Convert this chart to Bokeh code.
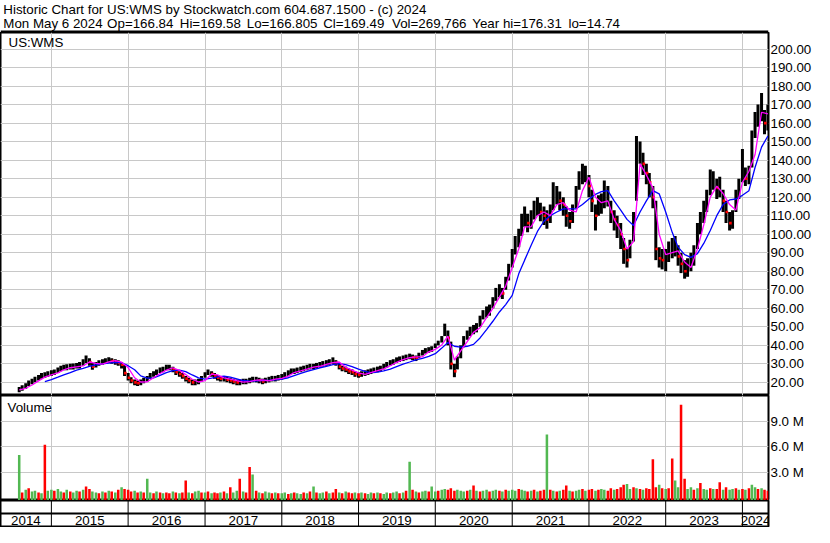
import pandas as pd
from bokeh.plotting import figure
from bokeh.layouts import column
from bokeh.models import (Range1d, FixedTicker, NumeralTickFormatter, PrintfTickFormatter,
                          Span, Label, ColumnDataSource)
from bokeh.core.properties import value
from bokeh.embed import file_html
from bokeh.resources import INLINE

# ---------------- data ----------------
title_line1 = "Historic Chart for US:WMS by Stockwatch.com 604.687.1500 - (c) 2024"
quote_fields = ["Mon May  6 2024", "Op=166.84", "Hi=169.58", "Lo=166.805", "Cl=169.49",
                "Vol=269,766", "Year hi=176.31", "lo=14.74"]
symbol_label = "US:WMS"
volume_label = "Volume"
years = list(range(2014, 2025))
price_ticks = list(range(20, 201, 10))
volume_ticks = [3, 6, 9]

# semi-monthly bars, starting 2014-08-01
bar_start = "2014-08-01"
close = [
    16.0, 17.0, 18.0, 19.5, 20.5, 21.5, 22.5, 23.5, 24.0, 24.5,
    25.0, 25.5, 26.5, 27.5, 28.0, 28.0, 28.5, 28.5, 29.0, 29.0, 30.5, 32.5, 31.0, 28.5, 29.5, 30.5, 31.0, 31.5, 32.0, 31.5, 31.0, 30.5, 29.5, 25.0,
    22.5, 21.0, 20.0, 19.5, 20.0, 21.0, 22.0, 23.5, 24.5, 25.5, 26.5, 27.0, 28.0, 28.0, 27.0, 25.5, 24.5, 23.5, 22.0, 21.0, 20.0, 20.0, 20.5, 22.0,
    24.0, 25.5, 24.5, 23.5, 22.5, 22.0, 22.0, 21.5, 21.0, 20.5, 20.0, 20.0, 20.5, 20.5, 21.0, 21.5, 21.5, 21.0, 20.5, 21.0, 21.5, 22.0, 22.0, 22.5,
    23.0, 24.0, 25.0, 26.0, 26.0, 26.5, 27.0, 27.5, 28.0, 28.5, 28.5, 29.0, 29.5, 30.0, 30.5, 31.0, 31.5, 30.5, 28.5, 27.5, 27.0, 26.0, 25.5, 24.5,
    24.0, 24.5, 25.0, 25.5, 26.0, 26.5, 27.0, 27.5, 28.5, 29.5, 30.5, 31.0, 32.0, 32.5, 33.0, 33.5, 34.0, 33.5, 33.0, 34.5, 36.0, 37.0, 37.5, 38.0,
    39.5, 41.0, 43.0, 48.0, 44.0, 30.0, 26.0, 31.0, 38.0, 43.0, 46.0, 48.0, 49.0, 50.0, 53.0, 57.0, 58.0, 59.0, 63.0, 68.0, 70.0, 68.0, 74.0, 80.0,
    88, 95, 98, 105, 110, 106, 108, 113, 115, 112, 110, 108, 110, 118, 121, 118, 116, 110, 107, 111, 120, 130, 132, 134,
    126, 118, 110, 116, 117, 120, 122, 112, 108, 105, 100, 92, 86, 92, 105, 140, 145, 138, 133, 128, 120, 92, 87, 86,
    86, 90, 92, 93, 88, 84, 80, 82, 85, 88, 100, 106, 112, 118, 128, 130, 125, 126, 118, 112, 106, 108, 118, 125,
    140, 130, 132, 150, 162, 165, 168, 160, 166,
]
high = [
    17.5, 18.5, 19.5, 21.0, 22.0, 23.0, 24.0, 25.0, 25.5, 26.0,
    26.5, 27.0, 28.0, 29.0, 29.5, 29.8, 30.0, 30.2, 30.5, 31.0, 32.5, 34.5, 33.0, 30.5, 31.0, 32.0, 32.5, 33.0, 33.5, 33.0, 32.5, 32.0, 31.0, 29.5,
    25.0, 22.8, 21.5, 21.0, 21.5, 22.5, 23.5, 25.0, 26.0, 27.0, 28.0, 28.5, 29.5, 29.5, 28.5, 27.0, 26.0, 25.0, 23.5, 22.5, 21.5, 21.5, 22.0, 23.5,
    25.5, 27.0, 26.0, 25.0, 24.0, 23.5, 23.5, 23.0, 22.5, 22.0, 21.5, 21.5, 22.0, 22.0, 22.5, 23.0, 23.0, 22.5, 22.0, 22.5, 23.0, 23.5, 23.5, 24.0,
    24.5, 25.5, 26.5, 27.5, 27.5, 28.0, 28.5, 29.0, 29.5, 30.0, 30.0, 30.5, 31.0, 31.5, 32.0, 32.5, 33.5, 32.0, 30.5, 29.0, 28.5, 27.5, 27.0, 26.0,
    25.5, 26.0, 26.5, 27.0, 27.5, 28.0, 28.5, 29.0, 30.0, 31.0, 32.0, 32.5, 33.5, 34.0, 34.5, 35.0, 35.5, 35.0, 34.5, 36.0, 37.5, 38.5, 39.0, 39.5,
    41.0, 42.5, 45.0, 51.7, 48.0, 42.0, 30.0, 34.0, 40.0, 45.0, 48.0, 50.0, 51.0, 52.0, 56.0, 59.0, 61.0, 62.0, 66.0, 71.0, 73.0, 71.0, 77.0, 84.0,
    92, 99, 103, 111, 115, 111, 113, 118, 120, 117, 115, 113, 116, 128, 126, 123, 120, 115, 112, 116, 126, 134, 138, 137,
    132, 124, 116, 121, 122, 129, 126, 118, 113, 110, 106, 98, 92, 97, 112, 153, 150, 144, 138, 133, 126, 118, 93, 92,
    92, 96, 98, 99, 94, 90, 86, 87, 90, 94, 106, 112, 118, 124, 135, 134, 130, 131, 124, 118, 112, 113, 124, 130,
    146, 136, 137, 156, 166, 170, 176.3, 167, 170,
]
low = [
    14.7, 15.5, 16.5, 18.0, 19.0, 20.0, 21.0, 22.0, 22.5, 23.0,
    23.5, 24.0, 25.0, 26.0, 26.5, 26.5, 27.0, 27.0, 27.5, 27.5, 29.0, 30.5, 29.0, 26.8, 28.0, 29.0, 29.5, 30.0, 30.5, 30.0, 29.5, 29.0, 27.5, 23.5,
    21.0, 19.5, 18.5, 18.0, 18.5, 19.5, 20.5, 22.0, 23.0, 24.0, 25.0, 25.5, 26.5, 26.5, 25.5, 24.0, 23.0, 22.0, 20.5, 19.5, 18.5, 18.5, 19.0, 20.5,
    22.5, 24.0, 23.0, 22.0, 21.0, 20.5, 20.5, 20.0, 19.5, 19.0, 18.5, 18.5, 19.0, 19.0, 19.5, 20.0, 20.0, 19.5, 19.0, 19.5, 20.0, 20.5, 20.5, 21.0,
    21.5, 22.5, 23.5, 24.5, 24.5, 25.0, 25.5, 26.0, 26.5, 27.0, 27.0, 27.5, 28.0, 28.5, 29.0, 29.5, 30.0, 29.0, 27.0, 26.0, 25.5, 24.5, 24.0, 23.0,
    22.5, 23.0, 23.5, 24.0, 24.5, 25.0, 25.5, 26.0, 27.0, 28.0, 29.0, 29.5, 30.5, 31.0, 31.5, 32.0, 32.5, 32.0, 31.5, 33.0, 34.5, 35.5, 36.0, 36.5,
    38.5, 40.0, 41.5, 45.0, 40.0, 27.0, 22.8, 27.0, 33.0, 39.0, 43.0, 45.0, 46.0, 47.0, 50.0, 54.0, 55.0, 56.0, 60.0, 64.0, 66.0, 65.0, 70.0, 75.0,
    82, 89, 93, 99, 104, 101, 103, 108, 110, 107, 105, 103, 106, 113, 116, 113, 110, 104, 103, 106, 114, 124, 127, 128,
    120, 112, 102, 110, 111, 114, 115, 106, 102, 98, 92, 84, 82, 87, 96, 118, 138, 132, 127, 120, 114, 86, 82, 81,
    80, 85, 87, 88, 83, 79, 76, 77, 80, 83, 92, 100, 106, 112, 121, 124, 119, 120, 112, 106, 102, 103, 112, 119,
    128, 126, 127, 136, 152, 158, 161, 154, 156,
]
# volume in millions, one per bar; G = up (green), R = down (red)
volume = [
    5.0, 0.6, 0.9, 1.1, 0.7, 0.8, 0.6, 0.5, 6.2, 0.8,
    0.9, 0.8, 1.0, 0.7, 0.6, 0.9, 0.7, 0.6, 0.8, 0.7, 0.9, 1.3, 1.0, 0.7, 0.6, 0.5, 0.7, 0.6, 0.8, 0.7, 0.6, 0.9, 1.2, 1.0,
    0.9, 0.7, 0.8, 0.6, 0.7, 0.6, 2.2, 0.6, 0.5, 0.7, 0.6, 0.5, 0.6, 0.5, 0.7, 0.6, 0.5, 0.6, 2.0, 0.6, 0.5, 0.7, 0.8, 0.6,
    0.6, 0.7, 0.5, 0.6, 0.5, 0.6, 0.7, 0.5, 1.2, 0.6, 0.8, 2.2, 0.7, 0.6, 3.6, 2.7, 0.8, 0.6, 0.5, 0.7, 0.6, 0.5, 0.6, 0.5,
    0.5, 0.6, 0.4, 0.5, 0.6, 0.5, 0.4, 0.6, 0.5, 0.7, 1.3, 0.6, 0.5, 0.6, 0.7, 0.5, 0.6, 1.0, 0.6, 0.5, 0.7, 0.6, 0.5, 0.6,
    0.5, 0.6, 0.5, 0.4, 0.6, 0.5, 0.6, 0.5, 0.4, 0.6, 0.5, 0.6, 0.7, 0.5, 0.6, 0.8, 4.2, 0.9, 0.7, 0.6, 0.7, 0.8, 0.7, 1.3,
    0.7, 0.8, 0.9, 1.0, 0.9, 1.1, 0.8, 0.9, 0.8, 0.7, 0.8, 0.9, 1.4, 0.8, 0.7, 0.8, 0.9, 0.7, 0.8, 0.9, 0.8, 0.7, 0.9, 0.8,
    0.9, 0.8, 1.0, 0.9, 0.8, 0.7, 0.8, 0.9, 0.7, 0.8, 0.9, 7.4, 0.9, 0.8, 0.7, 0.8, 0.9, 1.4, 0.8, 0.7, 0.8, 0.9, 1.0, 0.8,
    0.9, 1.0, 0.8, 0.9, 1.0, 0.9, 0.8, 1.1, 0.9, 1.0, 1.2, 1.5, 1.6, 1.0, 1.2, 1.1, 1.0, 0.9, 1.1, 1.0, 4.5, 1.2, 1.5, 1.1,
    1.0, 1.1, 4.6, 2.0, 1.2, 10.9, 2.2, 1.0, 1.2, 0.9, 1.1, 1.7, 1.0, 0.9, 1.1, 1.0, 1.0, 1.8, 0.9, 1.2, 0.9, 1.0, 1.1, 0.9,
    1.0, 0.9, 1.1, 1.5, 1.2, 1.0, 1.1, 0.9, 0.8,
]
volume_dir = ("GRGRGGRGRG"
              "GRGGRGRGGRGRRGGRGRGRGRGR"
              "RRGRGRGGRGRGRRGRGRRGRGGR"
              "GRGRRGRGRGGRGRRGRGRGGRGR"
              "GGRGRGGRGRGRGGRGRRGRGRRG"
              "RGRGGRGRGGRGGRGRGRGRGGRG"
              "GRGGRRRGGGRGRGRGGRGGRGRG"
              "GGRGGRGRGRRGRGRGRRGRGGRG"
              "RRGRGGRRGRRRGGRGRGRRRRGR"
              "GRRGGRRGGRGRGGRGRRGRGGRG"
              "RGRGGRGRR")

# moving averages, monthly (1st of month)
ma_fast_start = "2014-08-01"
ma_fast = [
    16.0, 16.8, 18.6, 20.8, 22.8,
    24.1, 25.1, 26.8, 27.9, 28.4, 28.9, 31.0, 30.2, 29.8, 31.1, 31.8, 30.9,
    28.0, 22.5, 20.2, 20.3, 22.5, 24.8, 26.6, 27.9, 26.5, 24.2, 21.7, 20.2,
    21.0, 24.4, 24.0, 22.4, 21.8, 20.9, 20.1, 20.4, 21.2, 21.3, 20.8, 21.7,
    22.2, 23.4, 25.3, 26.2, 27.2, 28.2, 28.7, 29.7, 30.7, 31.0, 28.1, 26.6,
    25.1, 24.3, 25.3, 26.3, 27.3, 29.0, 30.8, 32.3, 33.3, 33.8, 33.8, 36.5,
    37.8, 40.2, 45.0, 32.0, 37.0, 42.0, 47.0, 49.5, 55.0, 60.0, 66.0, 72.0,
    82.0, 92.0, 104.0, 104.0, 110.0, 112.0, 110.0, 116.0, 117.0, 113.0, 112.0, 123.5,
    130.8, 120.0, 117.0, 118.0, 108.0, 102.0, 92.0, 96.0, 138.0, 132.0, 125.0, 100.0,
    89.0, 90.0, 91.0, 85.0, 82.0, 92.0, 105.0, 120.0, 126.0, 122.0, 116.0, 113.0,
    128.0, 134.0, 143.0, 165.8, 165.0,
]
ma_slow_start = "2014-12-01"
ma_slow = [
    20.4,
    21.5, 22.8, 24.0, 25.3, 26.6, 27.6, 28.6, 29.4, 30.0, 30.4, 30.8, 30.6,
    29.0, 26.8, 23.5, 22.3, 22.4, 23.8, 25.3, 26.3, 26.6, 25.8, 24.0, 22.4,
    21.8, 22.3, 23.0, 23.3, 22.8, 21.9, 21.0, 20.6, 20.8, 21.0, 21.1, 21.3,
    21.8, 22.5, 23.6, 24.8, 25.9, 26.9, 27.8, 28.7, 29.6, 30.1, 29.6, 28.5,
    27.1, 25.9, 25.3, 25.5, 26.2, 27.2, 28.5, 29.8, 31.0, 32.2, 33.0, 34.0,
    35.5, 38.5, 41.5, 39.5, 39.0, 39.5, 40.5, 44.0, 48.5, 53.0, 58.0, 62.0,
    67.0, 78.6, 86.0, 94.0, 101.5, 107.0, 110.0, 112.0, 113.7, 113.7, 113.7, 116.0,
    119.0, 121.5, 123.0, 123.5, 118.0, 113.0, 108.0, 104.7, 112.0, 118.0, 123.5, 121.8,
    112.0, 101.0, 93.0, 89.0, 87.5, 89.5, 95.0, 102.0, 110.0, 116.0, 118.5, 119.0,
    121.0, 123.5, 136.0, 147.0, 153.0,
]

# ---------------- layout / style ----------------
FONT = "Liberation Sans"
FS = "13.33px"
FS_TITLE = "13.33px"
W = 814
RIGHT = 44
GRID = "#c8c8c8"
RED = "#ff0000"
GREEN = "#52b852"
X0 = pd.Timestamp("2014-05-04")
X1 = pd.Timestamp("2024-05-04")
PRICE_LO, PRICE_HI = 12.91, 208.91
VOL_LO, VOL_HI = -0.35, 12.0
DAY = 86400000
H_TITLE, H_PRICE, H_VOL, H_YEAR = 32, 363, 105, 27

bar_dates = pd.date_range(bar_start, periods=len(close), freq="SMS")
fast_dates = pd.date_range(ma_fast_start, periods=len(ma_fast), freq="MS")
slow_dates = pd.date_range(ma_slow_start, periods=len(ma_slow), freq="MS")
year_starts = [pd.Timestamp(f"{y}-01-01") for y in years]
year_ms = [ts.value // 10**6 for ts in year_starts]
bounds = year_starts[1:]
year_mid = []
for y in years:
    a = max(pd.Timestamp(f"{y}-01-01"), X0)
    b = min(pd.Timestamp(f"{y + 1}-01-01"), X1)
    year_mid.append(a + (b - a) / 2)

down = [False] + [close[i] < close[i - 1] for i in range(1, len(close))]
xr = Range1d(start=X0, end=X1)

common = dict(width=W, output_backend="svg", toolbar_location=None,
              min_border_left=0, min_border_right=RIGHT, min_border_top=0, min_border_bottom=0,
              background_fill_color="white", border_fill_color="white")


def style_right_axis(ax, ticks, fmt):
    ax.ticker = FixedTicker(ticks=ticks)
    ax.formatter = fmt
    ax.axis_line_color = None
    ax.major_tick_line_color = None
    ax.minor_tick_line_color = None
    ax.major_tick_out = 0
    ax.major_tick_in = 0
    ax.minor_tick_out = 0
    ax.minor_tick_in = 0
    ax.major_label_standoff = 2
    ax.major_label_text_font = FONT
    ax.major_label_text_font_size = FS
    ax.major_label_text_color = "black"


# ---- title strip ----
t = figure(width=W, height=H_TITLE, x_range=Range1d(0, W), y_range=Range1d(0, H_TITLE),
           x_axis_location=None, y_axis_location=None, output_backend="svg",
           toolbar_location=None, min_border=0, outline_line_color=None)
t.grid.visible = False
t.text(x=[3], y=[H_TITLE - 9], text=[title_line1], text_font=value(FONT),
       text_font_size=value(FS_TITLE), text_baseline="middle", text_align="left", text_color="black")
field_x = [3, 113, 190, 261, 342, 415, 500, 602]
t.text(x=field_x, y=[H_TITLE - 23] * len(field_x), text=quote_fields, text_font=value(FONT),
       text_font_size=value(FS_TITLE), text_baseline="middle", text_align="left", text_color="black")
t.add_layout(Span(location=1, dimension="width", line_color="black", line_width=2))

# ---- price panel ----
p = figure(height=H_PRICE, x_range=xr, y_range=Range1d(PRICE_LO, PRICE_HI), x_axis_type="datetime",
           x_axis_location=None, y_axis_location="right", **common)
p.outline_line_color = "black"
p.outline_line_width = 2
p.xgrid.ticker = FixedTicker(ticks=year_ms[1:])
p.ygrid.ticker = FixedTicker(ticks=price_ticks)
p.grid.grid_line_color = GRID
p.grid.grid_line_width = 1
style_right_axis(p.yaxis[0], price_ticks, NumeralTickFormatter(format="0.00"))

src = ColumnDataSource(dict(d=bar_dates, c=close, h=high, l=low))
p.segment(x0="d", y0="l", x1="d", y1="h", source=src, line_color="black", line_width=3)
dd = [d + pd.Timedelta(days=4) for d, f in zip(bar_dates, down) if f]
dc = [c for c, f in zip(close, down) if f]
p.scatter(x=dd, y=dc, marker="square", size=2.6, fill_color=RED, line_color=None)
p.line(x=slow_dates, y=ma_slow, line_color="#0000ff", line_width=1.3)
p.line(x=fast_dates, y=ma_fast, line_color="#ff00ff", line_width=1.3)
p.add_layout(Label(x=8, y=203.5, x_units="screen", text=symbol_label, text_font=FONT,
                   text_font_size=FS, text_color="black", text_baseline="middle"))

# ---- volume panel ----
v = figure(height=H_VOL, x_range=xr, y_range=Range1d(VOL_LO, VOL_HI), x_axis_type="datetime",
           x_axis_location=None, y_axis_location="right", **common)
v.outline_line_color = "black"
v.outline_line_width = 2
v.xgrid.ticker = FixedTicker(ticks=year_ms[1:])
v.ygrid.ticker = FixedTicker(ticks=volume_ticks)
v.grid.grid_line_color = GRID
v.grid.grid_line_width = 1
style_right_axis(v.yaxis[0], volume_ticks, PrintfTickFormatter(format="%.1f M"))
vcol = [GREEN if ch == "G" else RED for ch in volume_dir]
vsrc = ColumnDataSource(dict(d=bar_dates, v=volume, col=vcol))
v.vbar(x="d", top="v", bottom=VOL_LO, width=12 * DAY, source=vsrc, fill_color="col", line_color=None)
v.add_layout(Label(x=7, y=10.6, x_units="screen", text=volume_label, text_font=FONT,
                   text_font_size=FS, text_color="black", text_baseline="middle"))

# ---- year strip ----
yf = figure(height=H_YEAR, x_range=xr, y_range=Range1d(0, 1), x_axis_type="datetime",
            x_axis_location=None, y_axis_location=None, **common)
yf.outline_line_color = "black"
yf.outline_line_width = 2
yf.grid.visible = False
yf.segment(x0=bounds, y0=[0] * len(bounds), x1=bounds, y1=[1] * len(bounds),
           line_color="black", line_width=1)
yf.add_layout(Span(location=0.52, dimension="width", line_color="black", line_width=2))
yf.text(x=year_mid, y=[0.25] * len(years), text=[str(y) for y in years], text_font=value(FONT),
        text_font_size=value(FS), text_align="center", text_baseline="middle", text_color="black")

layout = column(t, p, v, yf, spacing=0)
open("out.html", "w").write(file_html(layout, INLINE))
